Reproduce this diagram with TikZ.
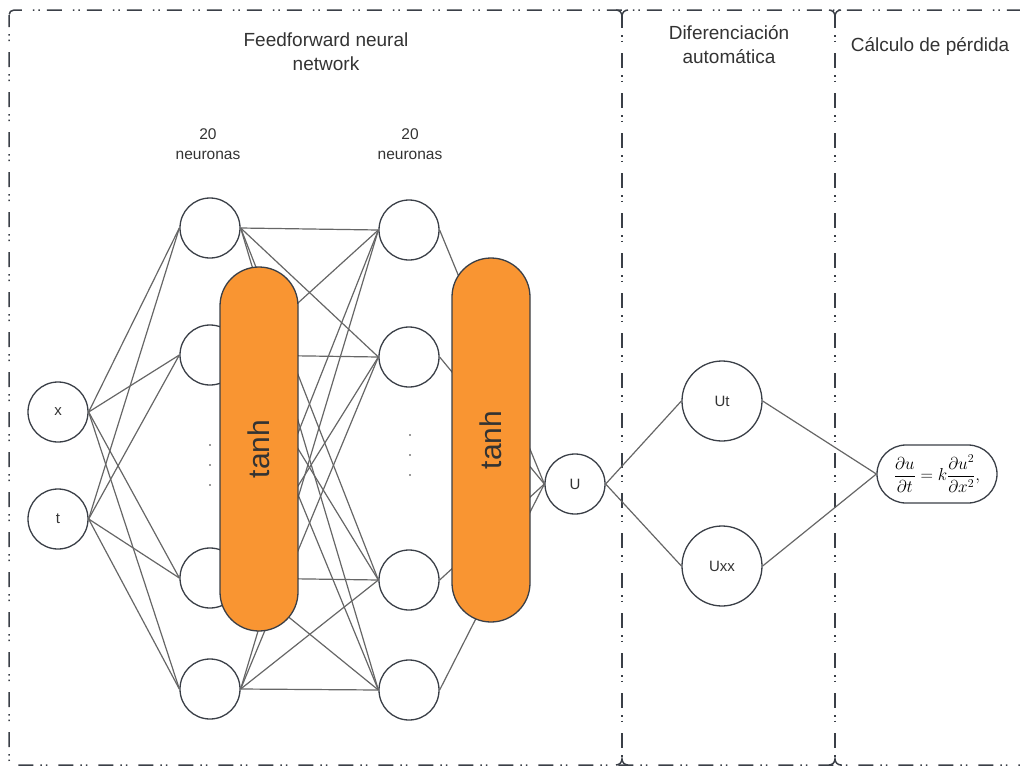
\documentclass[tikz,border=0pt]{standalone}
\usepackage{fontspec}
\setmainfont{Liberation Sans}
\usepackage{amsmath}
\definecolor{strokec}{HTML}{3A3F47}
\definecolor{linkc}{HTML}{666666}
\definecolor{textc}{HTML}{333333}
\definecolor{orangec}{HTML}{F99532}
\tikzset{
  neuron/.style={circle,draw=strokec,line width=1.3pt,minimum size=60pt,inner sep=0pt,
    text=textc,font=\fontsize{15}{18}\selectfont},
  bigneuron/.style={neuron,minimum size=80pt},
  link/.style={draw=linkc,line width=1.2pt},
  pill/.style={draw=strokec,fill=orangec,line width=1.3pt,rounded corners=39pt,
    minimum width=78pt,minimum height=364pt,inner sep=0pt},
  pilltext/.style={text=textc,rotate=90,font=\fontsize{30}{34}\selectfont},
  framedash/.style={draw=strokec,line width=1.5pt,
    dash pattern=on 15pt off 7pt on 1.5pt off 4pt on 1.5pt off 11pt,dash phase=3pt},
  frame/.style={framedash,rounded corners=5pt},
  junction/.style={draw=strokec,line width=1.5pt},
  title/.style={text=textc,align=center,font=\fontsize{19}{24}\selectfont},
  sublabel/.style={text=textc,align=center,font=\fontsize{15.5}{20}\selectfont},
  eqbox/.style={draw=strokec,line width=1.3pt,rounded corners=29pt,minimum width=120pt,
    minimum height=58pt,inner sep=0pt,text=black},
  dotmark/.style={fill=textc}
}
\begin{document}
\begin{tikzpicture}[x=1pt,y=-1pt]
\useasboundingbox (0,0) rectangle (1020,766);

% section frames: outer border, then the two dividers
\draw[frame] (9,10) rectangle (1045,765);
\draw[framedash] (622,16) -- (622,759);
\draw[framedash] (835,16) -- (835,759);
% rounded joints where the dividers meet the border
\foreach \xx in {622,835} {
  \draw[junction] (\xx-6,10) to[out=0,in=90] (\xx,16) to[out=90,in=180] (\xx+6,10);
  \draw[junction] (\xx-6,765) to[out=0,in=-90] (\xx,759) to[out=-90,in=180] (\xx+6,765);
}

% section titles
\node[title] (ttl1) at (326,52) {Feedforward neural\\network};
\node[title] (ttl2) at (729,45) {Diferenciación\\automática};
\node[title] (ttl3) at (930,46) {Cálculo de pérdida};
\node[sublabel] (cnt1) at (208,144) {20\\neuronas};
\node[sublabel] (cnt2) at (410,144) {20\\neuronas};

% inputs
\node[neuron] (x) at (58,412) {x};
\node[neuron] (t) at (58,519) {t};
% hidden layer 1
\node[neuron] (a1) at (210,228) {};
\node[neuron] (a2) at (210,355) {};
\node[neuron] (a3) at (210,578) {};
\node[neuron] (a4) at (210,689) {};
% hidden layer 2
\node[neuron] (b1) at (409,230) {};
\node[neuron] (b2) at (409,357) {};
\node[neuron] (b3) at (409,580) {};
\node[neuron] (b4) at (409,690) {};
% output and derivatives
\node[neuron] (u) at (575,484) {U};
\node[bigneuron] (ut) at (722,401) {Ut};
\node[bigneuron] (uxx) at (722,566) {Uxx};
\node[eqbox] (eq) at (937,474)
  {\fontsize{17.5}{20}\selectfont$\displaystyle\frac{\partial u}{\partial t}=k\frac{\partial u^2}{\partial x^2},$};

% ellipsis dots in the hidden layers
\foreach \yy in {445,465,485} \fill[dotmark] (210,\yy) circle (0.9pt);
\foreach \yy in {435,455,475} \fill[dotmark] (410,\yy) circle (0.9pt);

% connections
\foreach \i in {x,t} \foreach \j in {1,...,4} \draw[link] (\i.east) -- (a\j.west);
\foreach \i in {1,...,4} \foreach \j in {1,...,4} \draw[link] (a\i.east) -- (b\j.west);
\foreach \j in {1,...,4} \draw[link] (b\j.east) -- (u.west);
\draw[link] (u.east) -- (ut.west);
\draw[link] (u.east) -- (uxx.west);
\draw[link] (ut.east) -- (eq.west);
\draw[link] (uxx.east) -- (eq.west);

% activation bars
\node[pill] (act1) at (259,449) {};
\node[pilltext] (act1t) at (259,449) {tanh};
\node[pill] (act2) at (491,440) {};
\node[pilltext] (act2t) at (491,440) {tanh};
\end{tikzpicture}
\end{document}
